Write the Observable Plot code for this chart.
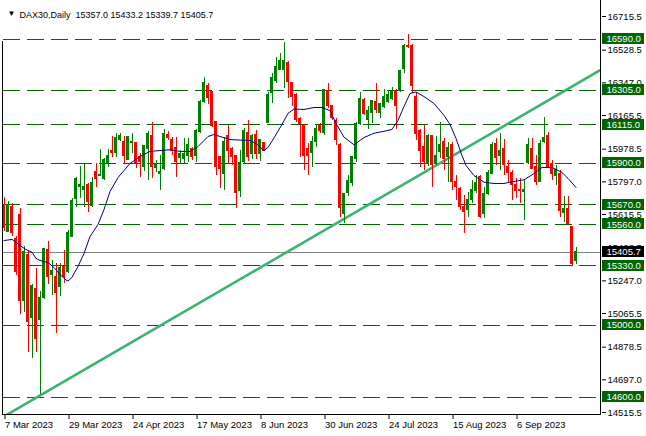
<!DOCTYPE html>
<html><head><meta charset="utf-8">
<script src="https://cdn.jsdelivr.net/npm/d3@7"></script>
<script src="https://cdn.jsdelivr.net/npm/@observablehq/plot@0.6"></script>
<style>
html,body{margin:0;padding:0;background:#fff;}
#chart{position:relative;width:646px;height:436px;overflow:hidden;}
</style></head><body><div id="chart"></div>
<script>
const title = "DAX30,Daily  15357.0 15433.2 15339.7 15405.7";
const opens = [15666,15521,15656,15479,15610,15135,15388,15038,15199,15032,15149,15416,15282,15271,15212,15324,15295,15493,15699,15771,15754,15782,15662,15854,15827,15810,15897,15971,15956,16027,16017,15921,16012,16012,15934,15878,15981,16049,15873,15838,15869,16058,16032,15986,15927,15925,15943,15977,15943,16073,16243,16327,16295,16128,15934,15842,16054,15977,15938,15745,15906,16071,15953,16058,15953,16012,16123,16292,16356,16421,16421,16460,16347,16282,16147,16110,15977,15956,16017,16110,16067,16301,16216,16134,16004,15616,15734,15789,15925,16119,16249,16138,16178,16238,16178,16212,16239,16258,16304,16301,16425,16554,16549,16267,16082,15993,15897,16049,15897,15962,16021,15934,15999,15795,15758,15656,15638,15697,15745,15823,15616,15730,15842,16008,15939,15981,15882,15845,15782,15753,15739,15900,15981,15878,15795,16017,16054,15897,15827,15838,15623,15647,15545,15357];
const highs = [15710,15688,15674,15493,15649,15438,15410,15227,15316,15188,15429,15466,15360,15343,15345,15416,15529,15702,15819,15882,15892,15786,15823,15897,15977,15927,15977,16049,16064,16067,16049,16049,16064,16016,15956,15999,16078,16128,15916,15943,16086,16077,16045,16045,15971,16036,16036,15989,16086,16248,16375,16345,16300,16132,15938,16045,16110,15989,15942,15971,16092,16138,16058,16082,16032,16017,16295,16397,16489,16508,16573,16464,16351,16286,16156,16116,16010,16049,16110,16123,16312,16342,16220,16149,16008,15732,15832,15938,16127,16295,16258,16216,16249,16345,16234,16308,16304,16319,16308,16416,16558,16616,16560,16295,16086,16110,16060,16054,16049,16128,16038,16017,16017,15832,15767,15721,15739,15804,15832,15832,15767,15860,16017,16036,16067,16031,15916,15860,15814,15816,15804,16036,16038,15943,16027,16156,16071,15916,15888,15860,15716,15716,15549,15433.2];
const lows = [15521,15516,15493,15277,15060,15071,14849,14816,14849,14618,15143,15227,15165,14954,15160,15232,15290,15490,15654,15704,15656,15628,15656,15767,15824,15804,15878,15934,15934,16023,15897,15916,15954,15869,15823,15854,15804,15814,15849,15749,15860,16027,15943,15819,15899,15897,15906,15916,15906,16066,16231,16227,16097,15832,15758,15749,15897,15888,15647,15712,15897,15912,15921,15921,15912,15966,16119,16231,16342,16416,16316,16260,16216,16128,15934,15860,15832,15878,15989,16066,16054,16204,16138,15999,15600,15564,15716,15771,15904,16110,16166,16088,16123,16175,16147,16203,16232,16249,16086,16293,16397,16538,16286,16027,15878,15860,15882,15767,15888,15925,15860,15795,15749,15693,15638,15512,15600,15675,15730,15592,15592,15721,15838,15888,15860,15832,15795,15693,15703,15675,15582,15893,15865,15777,15793,16008,15874,15804,15777,15597,15571,15560,15329,15339.7];
const closes = [15538,15671,15510,15295,15135,15407,15017,15216,14924,15154,15424,15268,15304,15178,15319,15271,15515,15688,15814,15782,15771,15684,15789,15812,15834,15921,15943,15960,16042,16049,15938,16045,16019,15904,15906,15997,16064,15882,15888,15851,16064,16039,15971,15906,15954,15953,16003,15934,16077,16243,16347,16264,16110,15878,15869,16021,15971,15934,15734,15900,16082,15934,16053,15949,16031,15971,16282,16373,16434,16466,16466,16351,16267,16138,16119,15943,15939,16021,16092,16082,16308,16221,16151,16032,15653,15730,15799,15934,16119,16258,16175,16193,16245,16197,16227,16267,16277,16304,16221,16412,16554,16545,16327,16064,15971,15906,16049,15893,15943,16003,15925,15984,15795,15767,15656,15628,15697,15749,15789,15600,15730,15845,15999,15931,15971,15888,15845,15782,15745,15745,15749,16004,15869,15795,16008,16042,15878,15838,15860,15634,15647,15564,15338,15405.7];
const maBars = [0,2,3,4,5.5,7,8,9,11,12.5,14,15.5,16,17,18.5,20,21.5,23.5,25,26.5,28.5,30,31.5,34,36.5,39,41.5,44,46.5,48.5,51,52.5,54,56.5,59,61.5,63,65,66,67.5,69.5,71,72.5,75,77.5,79.5,81.5,83,85,87.5,90,92.5,95,97,98.5,100,101.5,103,105,107.5,110,111.5,113,114.5,115.5,117.5,120,122.5,125,127.5,130,132.5,134.5,137,139.5,141,143];
const maValues = [15471,15477,15463,15443,15421,15406,15371,15360,15349,15321,15282,15252,15246,15266,15327,15399,15493,15560,15643,15743,15821,15860,15899,15938,15966,15971,15975,15966,15966,15993,16049,16060,16049,16032,16029,16027,16010,15971,15988,16041,16116,16177,16202,16199,16210,16210,16193,16121,16045,16003,16043,16067,16078,16088,16138,16216,16288,16296,16271,16232,16166,16116,16038,15943,15888,15832,15795,15788,15788,15799,15808,15843,15877,15877,15849,15816,15766];
const levels = [16590,16305,16115,15900,15670,15560,15330,15000,14600];
const lastPrice = 15405.7;
const priceTicks = [16715.5,16528.5,16347.0,16165.5,15978.5,15797.0,15615.5,15428.5,15247.0,15065.5,14878.5,14697.0,14515.5];
const dateTickBars = [0,16,32,48,64,80,96,112,128];
const dateTickLabels = ["7 Mar 2023","29 Mar 2023","24 Apr 2023","17 May 2023","8 Jun 2023","30 Jun 2023","24 Jul 2023","15 Aug 2023","6 Sep 2023"];
const trendBars = [-0.125, 149.375];
const trendValues = [14492, 16422];
const xDomain = [-0.125, 149.375];
const yDomain = [14498.8, 16804.5];

const candles = opens.map((o, i) => ({i, o, h: highs[i], l: lows[i], c: closes[i]}));
const up = candles.filter(d => d.c >= d.o);
const down = candles.filter(d => d.c < d.o);
const ma = maBars.map((b, k) => ({b, v: maValues[k]}));
const trend = trendBars.map((b, k) => ({b, v: trendValues[k]}));

const GREEN = "#008000", RED = "#ff0000", LVL = "#006400";
const font = "'Liberation Sans', Arial, sans-serif";

const chart = Plot.plot({
  width: 646, height: 436,
  marginLeft: 3, marginRight: 45, marginTop: 0, marginBottom: 21,
  style: {fontFamily: font, fontSize: "9.5px", background: "#fff", color: "#000", overflow: "visible"},
  x: {domain: xDomain},
  y: {domain: yDomain},
  marks: [
    Plot.ruleY(levels, {stroke: LVL, strokeDasharray: "17,7", shapeRendering: "crispEdges"}),
    Plot.ruleY([lastPrice], {stroke: "#808080", shapeRendering: "crispEdges"}),
    Plot.line(trend, {x: "b", y: "v", stroke: "#3cb371", strokeWidth: 2.6, clip: true}),
    Plot.ruleX(up, {x: "i", y1: "l", y2: "h", stroke: GREEN, shapeRendering: "crispEdges"}),
    Plot.ruleX(down, {x: "i", y1: "l", y2: "h", stroke: RED, shapeRendering: "crispEdges"}),
    Plot.rect(up, {x1: d => d.i - 0.375, x2: d => d.i + 0.375, y1: "o", y2: "c", fill: GREEN, insetTop: -0.5, insetBottom: -0.5, shapeRendering: "crispEdges"}),
    Plot.rect(down, {x1: d => d.i - 0.375, x2: d => d.i + 0.375, y1: "o", y2: "c", fill: RED, insetTop: -0.5, insetBottom: -0.5, shapeRendering: "crispEdges"}),
    Plot.line(ma, {x: "b", y: "v", stroke: "#000080", strokeWidth: 1}),
    Plot.axisY({anchor: "right", ticks: priceTicks, tickFormat: d => d.toFixed(1), tickSize: 4, tickPadding: 2, label: null, stroke: "#000"}),
    Plot.axisX({anchor: "bottom", ticks: dateTickBars, tickFormat: d => dateTickLabels[dateTickBars.indexOf(d)], tickSize: 4, tickPadding: 2, textAnchor: "start", dx: 1, label: null}),
    Plot.text(levels, {y: d => d, frameAnchor: "right", dx: 5, textAnchor: "start", text: d => d.toFixed(1), fill: "#fff"}),
    Plot.text([lastPrice], {y: d => d, frameAnchor: "right", dx: 5, textAnchor: "start", text: d => d.toFixed(1), fill: "#fff"}),
    Plot.text(["▼"], {frameAnchor: "top-left", dx: 4, dy: 10, fontSize: 8, fill: "#000", textAnchor: "start"}),
    Plot.text([title], {frameAnchor: "top-left", dx: 16, dy: 11, fontSize: 9, fill: "#000", textAnchor: "start"})
  ]
});
document.getElementById("chart").appendChild(chart);

// frame lines and label boxes, positioned from the plot's own scales
const svg = d3.select(chart);
const xs = chart.scale("x"), ys = chart.scale("y");
const [xl, xr] = xs.range, [yb, yt] = ys.range;
const fr = svg.append("g").attr("stroke", "#000").attr("shape-rendering", "crispEdges");
fr.append("line").attr("x1", xr - 0.5).attr("x2", xr - 0.5).attr("y1", yt).attr("y2", yb);
fr.append("line").attr("x1", xl - 1).attr("x2", xr).attr("y1", yb - 0.5).attr("y2", yb - 0.5);
fr.append("line").attr("x1", xl - 0.5).attr("x2", xl - 0.5).attr("y1", 41).attr("y2", yb);

const textGroups = svg.selectAll('g[aria-label="text"]').nodes();
function boxes(g, values, color) {
  if (!g) return;
  const bg = svg.append("g").attr("shape-rendering", "crispEdges");
  values.forEach(v => {
    const y = ys.apply(v);
    bg.append("rect").attr("x", xr + 1).attr("width", 42).attr("y", Math.round(y - 5.5)).attr("height", 11).attr("fill", color);
  });
  svg.node().appendChild(g);
}
boxes(textGroups[0], levels, LVL);
boxes(textGroups[1], [lastPrice], "#000");
</script></body></html>
